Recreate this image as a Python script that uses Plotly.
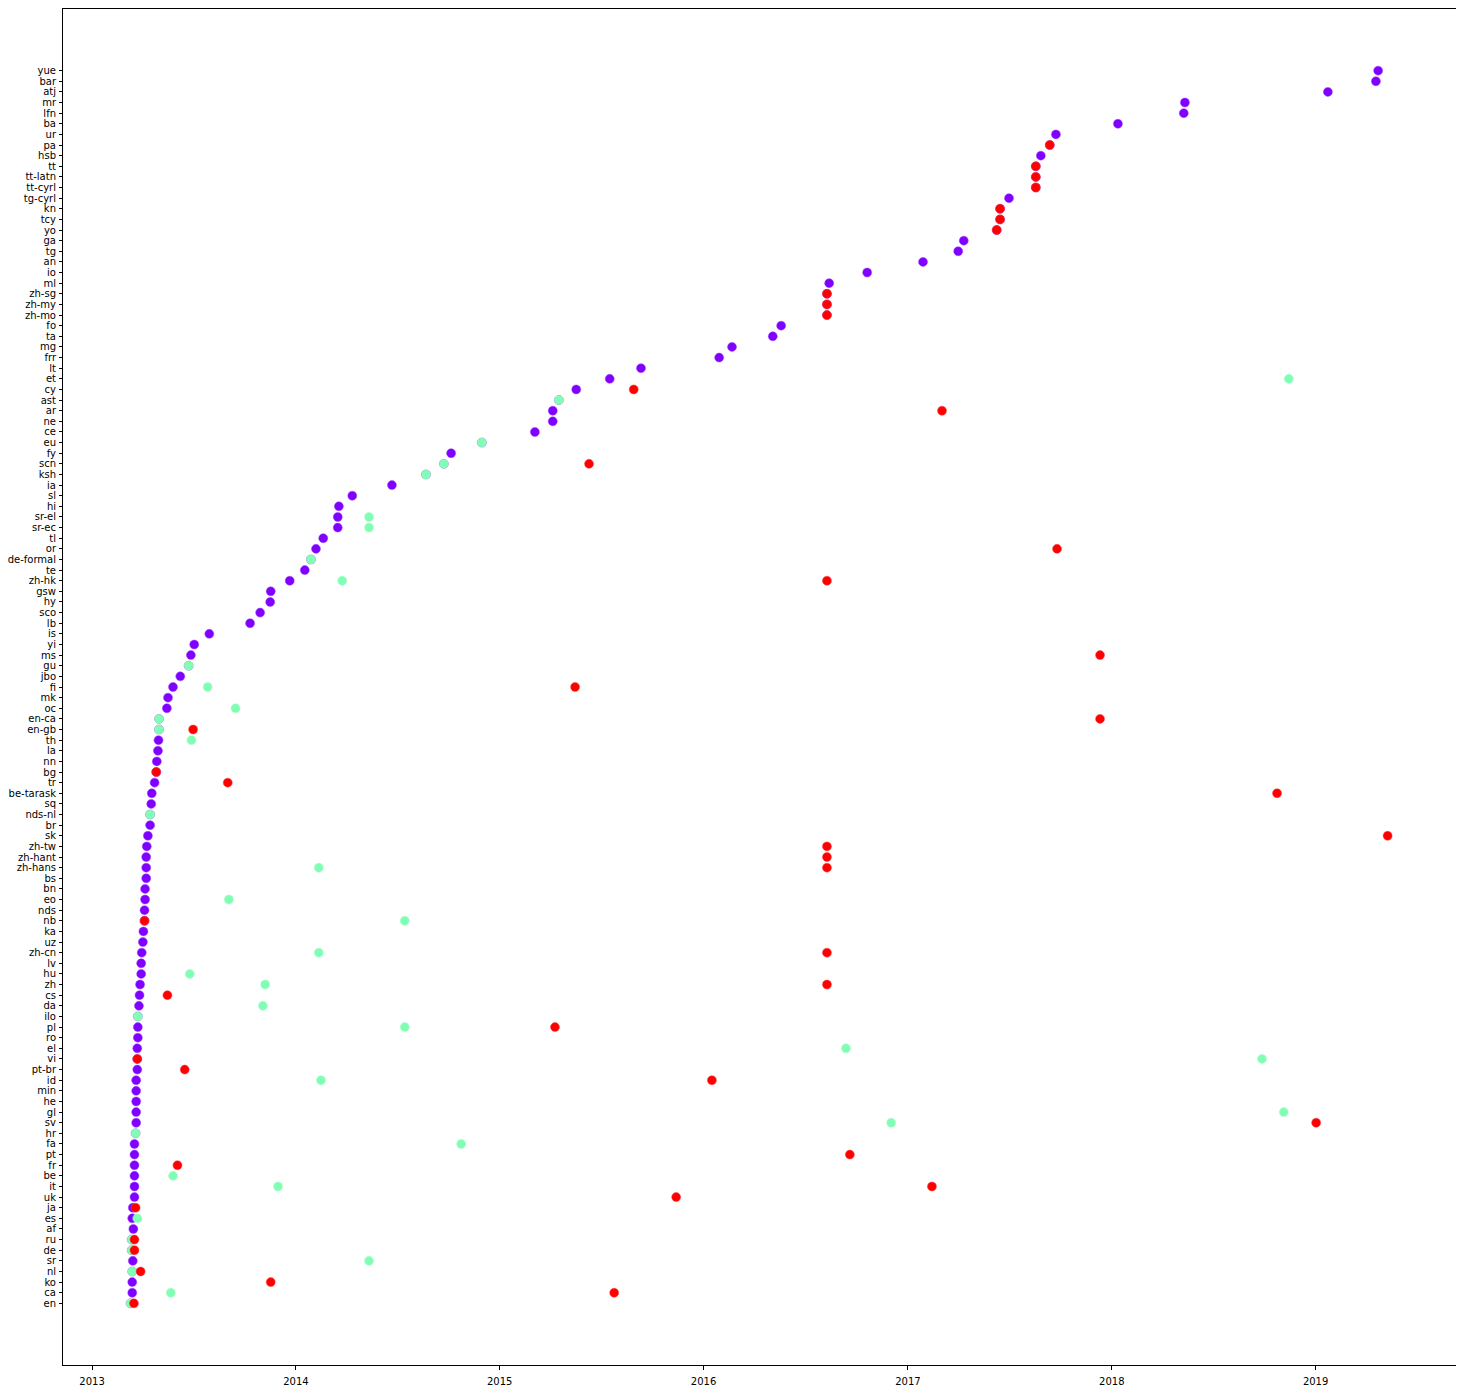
import plotly.graph_objects as go

langs = ["en", "ca", "ko", "nl", "sr", "de", "ru", "af", "es", "ja", "uk", "it", "be", "fr", "pt", "fa",
         "hr", "sv", "gl", "he", "min", "id", "pt-br", "vi", "el", "ro", "pl", "ilo", "da", "cs", "zh", "hu",
         "lv", "zh-cn", "uz", "ka", "nb", "nds", "eo", "bn", "bs", "zh-hans", "zh-hant", "zh-tw", "sk", "br",
         "nds-nl", "sq", "be-tarask", "tr", "bg", "nn", "la", "th", "en-gb", "en-ca", "oc", "mk", "fi", "jbo",
         "gu", "ms", "yi", "is", "lb", "sco", "hy", "gsw", "zh-hk", "te", "de-formal", "or", "tl", "sr-ec",
         "sr-el", "hi", "sl", "ia", "ksh", "scn", "fy", "eu", "ce", "ne", "ar", "ast", "cy", "et", "lt", "frr",
         "mg", "ta", "fo", "zh-mo", "zh-my", "zh-sg", "ml", "io", "an", "tg", "ga", "yo", "tcy", "kn",
         "tg-cyrl", "tt-cyrl", "tt-latn", "tt", "hsb", "pa", "ur", "ba", "lfn", "mr", "atj", "bar", "yue"]

first_dates = [
    "2013-03-11", "2013-03-14", "2013-03-14", "2013-03-14", "2013-03-15", "2013-03-13", "2013-03-13", "2013-03-16",
    "2013-03-14", "2013-03-15", "2013-03-18", "2013-03-18", "2013-03-18", "2013-03-18", "2013-03-18", "2013-03-18",
    "2013-03-20", "2013-03-21", "2013-03-21", "2013-03-21", "2013-03-21", "2013-03-21", "2013-03-23", "2013-03-23",
    "2013-03-23", "2013-03-24", "2013-03-24", "2013-03-24", "2013-03-26", "2013-03-27", "2013-03-28", "2013-03-30",
    "2013-03-30", "2013-03-31", "2013-04-02", "2013-04-03", "2013-04-05", "2013-04-05", "2013-04-06", "2013-04-06",
    "2013-04-08", "2013-04-08", "2013-04-08", "2013-04-09", "2013-04-11", "2013-04-15", "2013-04-15", "2013-04-17",
    "2013-04-18", "2013-04-23", "2013-04-26", "2013-04-27", "2013-04-29", "2013-04-30", "2013-05-01", "2013-05-01",
    "2013-05-15", "2013-05-17", "2013-05-26", "2013-06-08", "2013-06-23", "2013-06-27", "2013-07-03", "2013-07-30",
    "2013-10-11", "2013-10-29", "2013-11-16", "2013-11-17", "2013-12-21", "2014-01-17", "2014-01-28", "2014-02-06",
    "2014-02-19", "2014-03-17", "2014-03-17", "2014-03-19", "2014-04-12", "2014-06-22", "2014-08-22", "2014-09-23",
    "2014-10-06", "2014-11-30", "2015-03-05", "2015-04-06", "2015-04-06", "2015-04-17", "2015-05-18", "2015-07-17",
    "2015-09-11", "2016-01-29", "2016-02-21", "2016-05-04", "2016-05-19", "2016-08-09", "2016-08-09", "2016-08-09",
    "2016-08-13", "2016-10-20", "2017-01-28", "2017-04-01", "2017-04-11", "2017-06-09", "2017-06-15", "2017-06-15",
    "2017-07-01", "2017-08-18", "2017-08-18", "2017-08-18", "2017-08-27", "2017-09-12", "2017-09-23", "2018-01-12",
    "2018-05-10", "2018-05-12", "2019-01-23", "2019-04-19", "2019-04-23"]

second_langs = ["en", "ca", "nl", "sr", "de", "ru", "es", "it", "be", "fa", "hr", "sv", "gl", "id", "vi", "el",
                "pl", "ilo", "da", "zh", "hu", "zh-cn", "nb", "eo", "zh-hans", "nds-nl", "th", "en-gb", "en-ca",
                "oc", "fi", "gu", "zh-hk", "de-formal", "sr-ec", "sr-el", "ksh", "scn", "eu", "ast", "et"]
second_dates = ["2013-03-11", "2013-05-22", "2013-03-14", "2014-05-12", "2013-03-13", "2013-03-13", "2013-03-23",
                "2013-11-30", "2013-05-26", "2014-10-24", "2013-03-20", "2016-12-02", "2018-11-05", "2014-02-15",
                "2018-09-27", "2016-09-12", "2014-07-15", "2013-03-24", "2013-11-03", "2013-11-07", "2013-06-25",
                "2014-02-11", "2014-07-15", "2013-09-03", "2014-02-11", "2013-04-15", "2013-06-28", "2013-05-01",
                "2013-05-01", "2013-09-15", "2013-07-27", "2013-06-23", "2014-03-25", "2014-01-28", "2014-05-12",
                "2014-05-12", "2014-08-22", "2014-09-23", "2014-11-30", "2015-04-17", "2018-11-14"]

third_langs = ["en", "ca", "ko", "nl", "de", "ru", "ja", "uk", "it", "fr", "pt", "sv", "id", "pt-br", "vi", "pl",
               "cs", "zh", "zh-cn", "nb", "zh-hans", "zh-hant", "zh-tw", "sk", "be-tarask", "tr", "bg", "en-gb",
               "en-ca", "fi", "ms", "zh-hk", "or", "scn", "ar", "cy", "zh-mo", "zh-my", "zh-sg", "yo", "tcy", "kn",
               "tt-cyrl", "tt-latn", "tt", "pa"]
third_dates = ["2013-03-17", "2015-07-25", "2013-11-17", "2013-03-29", "2013-03-18", "2013-03-18", "2013-03-20",
               "2015-11-13", "2017-02-13", "2013-06-03", "2016-09-19", "2019-01-02", "2016-01-16", "2013-06-16",
               "2013-03-23", "2015-04-10", "2013-05-16", "2016-08-09", "2016-08-09", "2013-04-05", "2016-08-09",
               "2016-08-09", "2016-08-09", "2019-05-10", "2018-10-24", "2013-09-01", "2013-04-26", "2013-07-01",
               "2017-12-11", "2015-05-16", "2017-12-11", "2016-08-09", "2017-09-25", "2015-06-10", "2017-03-03",
               "2015-08-29", "2016-08-09", "2016-08-09", "2016-08-09", "2017-06-09", "2017-06-15", "2017-06-15",
               "2017-08-18", "2017-08-18", "2017-08-18", "2017-09-12"]

year_ticks = ["2013-01-01", "2014-01-01", "2015-01-01", "2016-01-01", "2017-01-01", "2018-01-01", "2019-01-01"]
year_labels = ["2013", "2014", "2015", "2016", "2017", "2018", "2019"]

colors = ["#8000ff", "#80ffb4", "#ff0000"]
edges = ["#9a40ff", "#a0ffc8", "#ff4040"]

fig = go.Figure()
for xs, ys, c, e in [(first_dates, langs, colors[0], edges[0]),
                     (second_dates, second_langs, colors[1], edges[1]),
                     (third_dates, third_langs, colors[2], edges[2])]:
    fig.add_trace(go.Scatter(x=xs, y=ys, mode="markers",
                             marker=dict(color=c, size=9, line=dict(color=e, width=0.5)),
                             showlegend=False))

# page body adds an 8px offset, so the figure is sized to fit the remaining window
fig.update_layout(
    width=1456, height=1382,
    margin=dict(l=55, r=6, t=1, b=25, autoexpand=False),
    plot_bgcolor="white", paper_bgcolor="white",
    font=dict(family="DejaVu Sans", size=10, color="black"),
)
fig.update_xaxes(type="date", range=["2012-11-10", "2019-09-13"], automargin=False,
                 tickvals=year_ticks, ticktext=year_labels,
                 showgrid=False, zeroline=False, showline=True, mirror=True,
                 linecolor="black", linewidth=1, ticks="outside", ticklen=4, tickcolor="black",
                 ticklabelstandoff=3,
                 tickfont=dict(family="DejaVu Sans", size=10, color="black"))
fig.update_yaxes(type="category", categoryorder="array", categoryarray=langs, automargin=False,
                 range=[-5.8, len(langs) - 1 + 5.8],
                 showgrid=False, zeroline=False, showline=True, mirror=True,
                 linecolor="black", linewidth=1, ticks="outside", ticklen=3, tickcolor="black",
                 ticklabelstandoff=1,
                 tickfont=dict(family="DejaVu Sans", size=10, color="black"), dtick=1)

fig.write_html("out.html")
